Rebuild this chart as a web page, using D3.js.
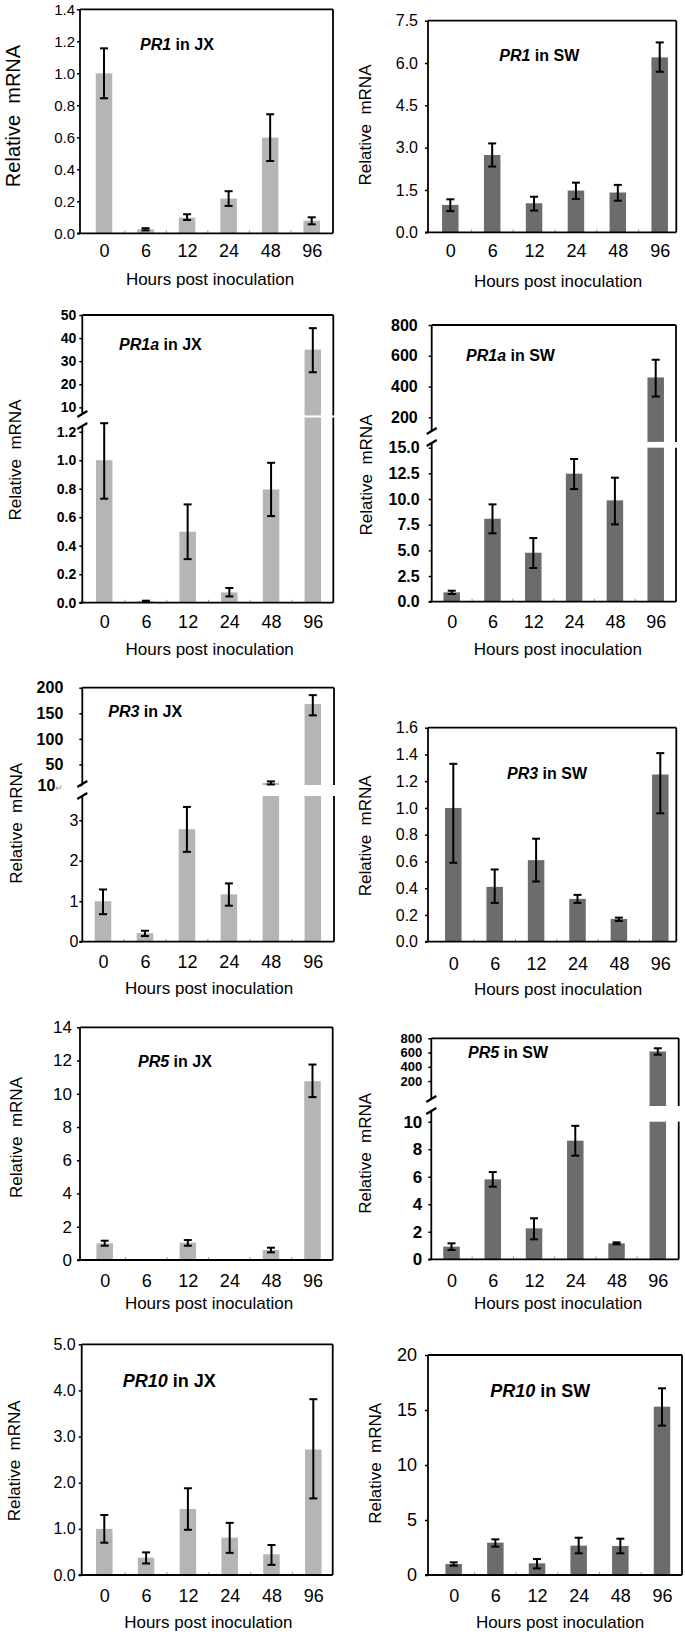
<!DOCTYPE html>
<html><head><meta charset="utf-8">
<script src="https://cdn.jsdelivr.net/npm/d3@7"></script>
<style>
body{margin:0;background:#fff;}
svg{display:block;font-family:"Liberation Sans",Arial,sans-serif;}
</style></head><body>
<svg id="c" width="685" height="1634"></svg>
<script>
// ---------------- DATA ----------------
const hours = ["0","6","12","24","48","96"];
const genes = ["PR1","PR1","PR1a","PR1a","PR3","PR3","PR5","PR5","PR10","PR10"];
const cultivars = ["JX","SW","JX","SW","JX","SW","JX","SW","JX","SW"];

const pr1JX    = [1.00, 0.025, 0.098, 0.217, 0.598, 0.079];
const pr1JXHi  = [1.156,0.032, 0.119, 0.263, 0.744, 0.100];
const pr1JXLo  = [0.844,0.018, 0.083, 0.171, 0.452, 0.056];

const pr1SW    = [0.97, 2.74, 1.03, 1.48, 1.41, 6.20];
const pr1SWHi  = [1.17, 3.15, 1.26, 1.76, 1.68, 6.73];
const pr1SWLo  = [0.75, 2.33, 0.77, 1.18, 1.12, 5.69];

const pr1aJX   = [1.00, 0.010, 0.498, 0.072, 0.795, 35.0];
const pr1aJXHi = [1.26, 0.014, 0.690, 0.103, 0.982, 44.3];
const pr1aJXLo = [0.73, 0.004, 0.306, 0.044, 0.608, 25.2];

const pr1aSW   = [0.91, 8.08, 4.77, 12.47, 9.87, 459];
const pr1aSWHi = [1.07, 9.48, 6.20, 13.90, 12.08, 574];
const pr1aSWLo = [0.75, 6.66, 3.28, 10.97, 7.53, 335];

const pr3JX    = [1.00, 0.21, 2.78, 1.17, 14.0, 168];
const pr3JXHi  = [1.29, 0.27, 3.33, 1.44, 17.0, 185.5];
const pr3JXLo  = [0.68, 0.14, 2.22, 0.89, 11.0, 146];

const pr3SW    = [1.00, 0.41, 0.61, 0.32, 0.17, 1.25];
const pr3SWHi  = [1.33, 0.54, 0.77, 0.35, 0.18, 1.41];
const pr3SWLo  = [0.59, 0.29, 0.45, 0.29, 0.155, 0.96];

const pr5JX    = [1.00, 0, 1.04, 0, 0.60, 10.76];
const pr5JXHi  = [1.16, 0, 1.20, 0, 0.74, 11.76];
const pr5JXLo  = [0.86, 0, 0.86, 0, 0.46, 9.80];

const pr5SW    = [0.92, 5.81, 2.25, 8.62, 1.16, 615];
const pr5SWHi  = [1.16, 6.34, 2.98, 9.70, 1.23, 660];
const pr5SWLo  = [0.68, 5.28, 1.45, 7.53, 1.09, 570];

const pr10JX   = [1.00, 0.376, 1.43, 0.81, 0.45, 2.72];
const pr10JXHi = [1.30, 0.49, 1.88, 1.13, 0.65, 3.81];
const pr10JXLo = [0.70, 0.25, 0.98, 0.48, 0.22, 1.66];

const pr10SW   = [1.00, 2.94, 1.06, 2.67, 2.64, 15.3];
const pr10SWHi = [1.15, 3.24, 1.45, 3.39, 3.30, 16.97];
const pr10SWLo = [0.85, 2.58, 0.60, 1.97, 1.97, 13.58];

// y domains and ticks
const pr1JXTicks  = [0,0.2,0.4,0.6,0.8,1.0,1.2,1.4];
const pr1SWTicks  = [0,1.5,3.0,4.5,6.0,7.5];
const pr1aJXLowerDomain = [0,1.3],  pr1aJXUpperDomain = [6.5,50];
const pr1aJXLowerTicks  = [0,0.2,0.4,0.6,0.8,1.0,1.2], pr1aJXUpperTicks = [10,20,30,40,50];
const pr1aSWLowerDomain = [0,15],   pr1aSWUpperDomain = [40,800];
const pr1aSWLowerTicks  = [0,2.5,5,7.5,10,12.5,15], pr1aSWUpperTicks = [200,400,600,800];
const pr3JXLowerDomain  = [0,3.6],  pr3JXUpperDomain  = [10,200];
const pr3JXLowerTicks   = [0,1,2,3], pr3JXUpperTicks = [10,50,100,150,200];
const pr3SWTicks  = [0,0.2,0.4,0.6,0.8,1.0,1.2,1.4,1.6];
const pr5JXTicks  = [0,2,4,6,8,10,12,14];
const pr5SWLowerDomain  = [0,10],   pr5SWUpperDomain  = [-150,800];
const pr5SWLowerTicks   = [0,2,4,6,8,10], pr5SWUpperTicks = [200,400,600,800];
const pr10JXTicks = [0,1,2,3,4,5];
const pr10SWTicks = [0,5,10,15,20];

const colorJX = "#b5b5b5", colorSW = "#6c6c6c";

const panels = [
 {val:pr1JX, hi:pr1JXHi, lo:pr1JXLo, ticks:pr1JXTicks, fmt:".1f"},
 {val:pr1SW, hi:pr1SWHi, lo:pr1SWLo, ticks:pr1SWTicks, fmt:".1f"},
 {val:pr1aJX, hi:pr1aJXHi, lo:pr1aJXLo, lower:pr1aJXLowerDomain, upper:pr1aJXUpperDomain, lowerTicks:pr1aJXLowerTicks, upperTicks:pr1aJXUpperTicks, fmt:".1f", ufmt:"d"},
 {val:pr1aSW, hi:pr1aSWHi, lo:pr1aSWLo, lower:pr1aSWLowerDomain, upper:pr1aSWUpperDomain, lowerTicks:pr1aSWLowerTicks, upperTicks:pr1aSWUpperTicks, fmt:".1f", ufmt:"d"},
 {val:pr3JX, hi:pr3JXHi, lo:pr3JXLo, lower:pr3JXLowerDomain, upper:pr3JXUpperDomain, lowerTicks:pr3JXLowerTicks, upperTicks:pr3JXUpperTicks, fmt:"d", ufmt:"d"},
 {val:pr3SW, hi:pr3SWHi, lo:pr3SWLo, ticks:pr3SWTicks, fmt:".1f"},
 {val:pr5JX, hi:pr5JXHi, lo:pr5JXLo, ticks:pr5JXTicks, fmt:"d"},
 {val:pr5SW, hi:pr5SWHi, lo:pr5SWLo, lower:pr5SWLowerDomain, upper:pr5SWUpperDomain, lowerTicks:pr5SWLowerTicks, upperTicks:pr5SWUpperTicks, fmt:"d", ufmt:"d"},
 {val:pr10JX, hi:pr10JXHi, lo:pr10JXLo, ticks:pr10JXTicks, fmt:".1f"},
 {val:pr10SW, hi:pr10SWHi, lo:pr10SWLo, ticks:pr10SWTicks, fmt:"d"}
];

// ---------------- LAYOUT ----------------
const layout = [
 {x0:80, x1:333, top:9.3, bottom:233.3, c0:104, c1:311.7, gap:5, fs:15, xb:256.7, xtx:210, xtb:285, ylx:12.5, yly:116, ylfs:20, tx:140, tb:50, tfs:16},
 {x0:428, x1:676.3, top:20.7, bottom:232.3, c0:450.3, c1:659.7, gap:10, fs:16, xb:256.7, xtx:558, xtb:287, ylx:365, yly:125, ylfs:17, tx:499.3, tb:61, tfs:16},
 {x0:82.3, x1:333.3, top:315, bottom:602.7, yU:415.4, yL:417.5, brk:420, c0:104.2, c1:312.8, gap:6, ugap:6, fs:14, ufs:14, bold:true, xb:628.3, xtx:209.7, xtb:654.7, ylx:15, yly:460, ylfs:17, tx:119, tb:350, tfs:16},
 {x0:431.7, x1:676, top:325, bottom:601.7, yU:441.9, yL:447.7, brk:437, c0:451.7, c1:655.7, gap:12, ugap:14, fs:16, ufs:16, bold:true, xb:628.3, xtx:557.8, xtb:655, ylx:366, yly:475, ylfs:17, tx:466, tb:360.7, tfs:16},
 {x0:82.3, x1:334, top:687.7, bottom:941.7, yU:785, yL:796, brk:790, c0:103, c1:312.8, gap:4, ugap:19, fs:16, ufs:16, bold:true, lowerNormal:true, xb:968.3, xtx:209, xtb:994, ylx:16, yly:823.3, ylfs:17, tx:108.3, tb:717.3, tfs:16},
 {x0:428, x1:676.3, top:727.7, bottom:941.7, c0:453.3, c1:660.3, gap:10, fs:16, xb:970, xtx:558, xtb:994.7, ylx:364.5, yly:835.8, ylfs:17, tx:507, tb:779.3, tfs:16},
 {x0:80, x1:332.7, top:1027.3, bottom:1260, c0:104.7, c1:312.5, gap:8, fs:17, xb:1286.7, xtx:209, xtb:1309, ylx:16, yly:1137.5, ylfs:17, tx:138, tb:1066.7, tfs:16},
 {x0:431.3, x1:678.7, top:1038.3, bottom:1259.3, yU:1106, yL:1121.7, brk:1105, c0:451.5, c1:657.8, gap:9, ugap:9, fs:17, ufs:13, bold:true, xb:1286.7, xtx:558, xtb:1309, ylx:364.5, yly:1153.3, ylfs:17, tx:468, tb:1058.3, tfs:16},
 {x0:81.7, x1:332.7, top:1344.3, bottom:1575, c0:104.3, c1:313.3, gap:6, fs:16, xb:1601.7, xtx:208.3, xtb:1628.3, ylx:14, yly:1460.8, ylfs:17, tx:122.7, tb:1387.3, tfs:18},
 {x0:428, x1:682, top:1355, bottom:1575, c0:453.7, c1:662, gap:11, fs:18, xb:1601.7, xtx:560, xtb:1628.3, ylx:374.5, yly:1463.3, ylfs:17, tx:490.3, tb:1396.7, tfs:18}
];

const svg = d3.select("#c");
const BW = 16.5, CAP = 4, TICK = 3;

panels.forEach((p, k) => {
  const L = layout[k];
  const g = svg.append("g");
  const color = cultivars[k] === "JX" ? colorJX : colorSW;
  const broken = !!p.lower;
  const x = d3.scalePoint().domain(hours).range([L.c0, L.c1]);
  let y, yLow, yUp;
  if (broken) {
    yLow = d3.scaleLinear().domain(p.lower).range([L.bottom, L.yL]);
    yUp  = d3.scaleLinear().domain(p.upper).range([L.yU, L.top]);
  } else {
    y = d3.scaleLinear().domain([0, d3.max(p.ticks)]).range([L.bottom, L.top]);
  }
  const ym = v => {
    if (!broken) return y(v);
    if (v <= p.lower[1]) return yLow(v);
    return yUp(Math.max(v, p.upper[0]));
  };

  // bars
  hours.forEach((h, i) => {
    const v = p.val[i];
    if (!v) return;
    const cx = x(h);
    if (broken && v > p.lower[1]) {
      g.append("rect").attr("x", cx - BW/2).attr("y", L.yL).attr("width", BW).attr("height", L.bottom - L.yL).attr("fill", color);
      g.append("rect").attr("x", cx - BW/2).attr("y", yUp(v)).attr("width", BW).attr("height", L.yU - yUp(v)).attr("fill", color);
    } else {
      g.append("rect").attr("x", cx - BW/2).attr("y", ym(v)).attr("width", BW).attr("height", L.bottom - ym(v)).attr("fill", color);
    }
  });

  // error bars
  hours.forEach((h, i) => {
    if (!p.val[i]) return;
    const cx = x(h);
    let yh = ym(p.hi[i]), yl = ym(p.lo[i]);
    if (broken && p.val[i] > p.lower[1]) yl = Math.min(yl, L.yU);
    const eb = g.append("g").attr("stroke", "#000").attr("stroke-width", 2);
    eb.append("line").attr("x1", cx).attr("x2", cx).attr("y1", yh).attr("y2", yl);
    eb.append("line").attr("x1", cx - CAP).attr("x2", cx + CAP).attr("y1", yh).attr("y2", yh);
    eb.append("line").attr("x1", cx - CAP).attr("x2", cx + CAP).attr("y1", yl).attr("y2", yl);
  });

  // small category-boundary ticks on baseline
  for (let i = 0; i < hours.length - 1; i++) {
    const bx = (x(hours[i]) + x(hours[i+1])) / 2;
    g.append("line").attr("x1", bx).attr("x2", bx).attr("y1", L.bottom).attr("y2", L.bottom - 3)
      .attr("stroke", "#999").attr("stroke-width", 1);
  }

  // frame
  const fr = g.append("g").attr("stroke", "#000").attr("stroke-width", 1.8).attr("fill", "none");
  fr.append("line").attr("x1", L.x0).attr("x2", L.x1).attr("y1", L.top).attr("y2", L.top);
  fr.append("line").attr("x1", L.x0 - TICK).attr("x2", L.x1).attr("y1", L.bottom).attr("y2", L.bottom);
  if (broken) {
    fr.append("line").attr("x1", L.x1).attr("x2", L.x1).attr("y1", L.top).attr("y2", L.yU);
    fr.append("line").attr("x1", L.x1).attr("x2", L.x1).attr("y1", L.yL).attr("y2", L.bottom);
    const m1 = L.brk - 6, m2 = L.brk + 6;
    fr.append("line").attr("x1", L.x0).attr("x2", L.x0).attr("y1", L.top).attr("y2", m1);
    fr.append("line").attr("x1", L.x0).attr("x2", L.x0).attr("y1", m2).attr("y2", L.bottom);
    [m1, m2].forEach(m => {
      fr.append("line").attr("x1", L.x0 - 5).attr("x2", L.x0 + 5).attr("y1", m + 3).attr("y2", m - 3).attr("stroke-width", 2.2);
    });
  } else {
    fr.append("line").attr("x1", L.x1).attr("x2", L.x1).attr("y1", L.top).attr("y2", L.bottom);
    fr.append("line").attr("x1", L.x0).attr("x2", L.x0).attr("y1", L.top).attr("y2", L.bottom);
  }

  // y axes
  const styleAxis = (sel, fs, bold) => {
    sel.select(".domain").remove();
    sel.selectAll(".tick line").attr("stroke", "#000").attr("stroke-width", 1.5);
    sel.selectAll(".tick text").attr("fill", "#000").style("font-size", fs + "px")
      .style("font-weight", bold ? "bold" : "normal")
      .style("font-family", '"Liberation Sans", Arial, sans-serif');
  };
  if (broken) {
    const al = g.append("g").attr("transform", `translate(${L.x0},0)`)
      .call(d3.axisLeft(yLow).tickValues(p.lowerTicks).tickSize(TICK).tickPadding(Math.max(1, L.gap - TICK)).tickFormat(d3.format(p.fmt)));
    styleAxis(al, L.fs, L.lowerNormal ? false : L.bold);
    const au = g.append("g").attr("transform", `translate(${L.x0},0)`)
      .call(d3.axisLeft(yUp).tickValues(p.upperTicks).tickSize(TICK).tickPadding(Math.max(1, L.ugap - TICK)).tickFormat(d3.format(p.ufmt)));
    styleAxis(au, L.ufs, L.bold);
    if (k === 4) {
      au.selectAll(".tick text").filter(d => d === 10)
        .append("tspan").text("↵").style("font-size", "9px").style("font-weight", "normal").attr("fill", "#888");
    }
  } else {
    const ay = g.append("g").attr("transform", `translate(${L.x0},0)`)
      .call(d3.axisLeft(y).tickValues(p.ticks).tickSize(TICK).tickPadding(Math.max(1, L.gap - TICK)).tickFormat(d3.format(p.fmt)));
    styleAxis(ay, L.fs, false);
  }

  // x axis labels
  const ax = g.append("g").attr("transform", `translate(0,${L.bottom})`)
    .call(d3.axisBottom(x).tickSize(0));
  ax.select(".domain").remove();
  ax.selectAll(".tick text").attr("dy", null).attr("y", L.xb - L.bottom).attr("fill", "#000")
    .style("font-size", "18px").style("font-family", '"Liberation Sans", Arial, sans-serif');

  // x title
  g.append("text").attr("x", L.xtx).attr("y", L.xtb).attr("text-anchor", "middle")
    .style("font-size", "17px").text("Hours post inoculation");

  // y title
  g.append("text").attr("transform", `translate(${L.ylx},${L.yly}) rotate(-90)`)
    .attr("text-anchor", "middle").attr("dy", "0.36em").style("font-size", L.ylfs + "px")
    .style("white-space", "pre").text("Relative  mRNA");

  // panel title
  const t = g.append("text").attr("x", L.tx).attr("y", L.tb).style("font-size", L.tfs + "px").style("font-weight", "bold");
  t.append("tspan").style("font-style", "italic").text(genes[k]);
  t.append("tspan").text(" in " + cultivars[k]);
});
</script>
</body></html>
